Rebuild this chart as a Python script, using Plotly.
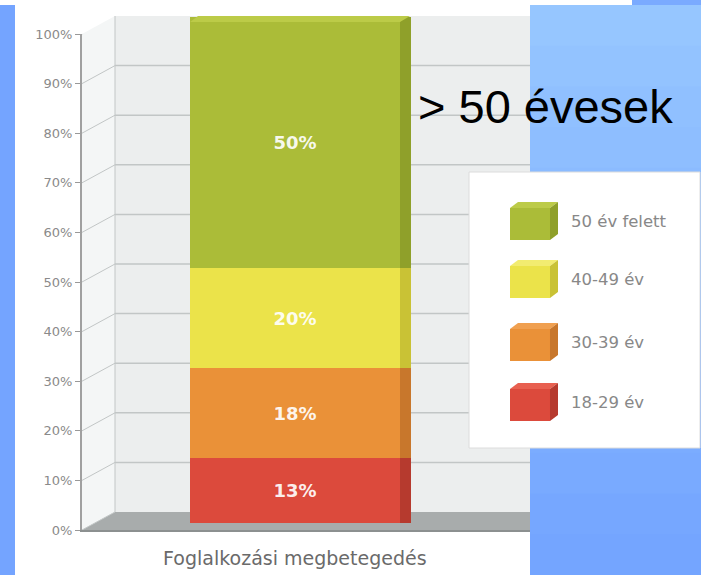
import plotly.graph_objects as go

W, H = 701, 575

# ---- data ----
category = "Foglalkozási megbetegedés"
age_groups = ["18-29 év", "30-39 év", "40-49 év", "50 év felett"]
shares = [13, 18, 20, 50]
y_ticks = [0, 10, 20, 30, 40, 50, 60, 70, 80, 90, 100]
y_tick_labels = [f"{t}%" for t in y_ticks]
title_text = "> 50 évesek"

# ---- style ----
front_colors = ["#dc4a3c", "#ea9138", "#ebe34a", "#abbc38"]
side_colors = ["#b63a2e", "#c8772c", "#c9c235", "#8fa02a"]
top_colors = ["#e86050", "#f0a050", "#f2ec70", "#bccb48"]


def px(x):
    return x / W


def py(y):
    return 1 - y / H


fig = go.Figure()

BAR_X, BAR_W = 0.475, 0.469
SIDE_X, SIDE_W = 0.7215, 0.024

for name, v, fc, sc in zip(age_groups, shares, front_colors, side_colors):
    fig.add_trace(go.Bar(
        x=[BAR_X], y=[v], width=[BAR_W], name=name,
        marker=dict(color=fc, line=dict(width=0)),
        text=[f"{v}%"], textposition="inside", insidetextanchor="middle",
        textfont=dict(color="rgba(255,255,255,0.92)", size=18, family="DejaVu Sans", weight="bold"),
        constraintext="none",
        xaxis="x", yaxis="y3", showlegend=False,
        hovertemplate=name + ": %{y}%<extra></extra>",
    ))
    fig.add_trace(go.Bar(
        x=[SIDE_X], y=[v], width=[SIDE_W], name=name,
        marker=dict(color=sc, line=dict(width=0)),
        xaxis="x", yaxis="y3", showlegend=False, hoverinfo="skip",
    ))

shapes = []
# page / card background
shapes.append(dict(type="rect", xref="paper", yref="paper", layer="below",
                   x0=0, x1=px(15), y0=0, y1=1, fillcolor="#74a4ff", line=dict(width=0)))
n_bands = 14
for i in range(n_bands):
    t = i / (n_bands - 1)
    r = int(0x96 + (0x74 - 0x96) * t)
    g = int(0xc6 + (0xa5 - 0xc6) * t)
    col = f"rgb({r},{g},255)"
    y_top = 5 + (575 - 5) * i / n_bands
    y_bot = 5 + (575 - 5) * (i + 1) / n_bands
    shapes.append(dict(type="rect", xref="paper", yref="paper", layer="below",
                       x0=px(530), x1=1, y0=py(y_bot + 1), y1=py(y_top),
                       fillcolor=col, line=dict(width=0)))
shapes.append(dict(type="rect", xref="paper", yref="paper", layer="below",
                   x0=px(15), x1=px(530), y0=0, y1=py(5), fillcolor="white", line=dict(width=0)))
shapes.append(dict(type="rect", xref="paper", yref="paper", layer="below",
                   x0=0, x1=px(632), y0=py(5), y1=1, fillcolor="white", line=dict(width=0)))


def ppath(points):
    return "M " + " L ".join(f"{px(x):.5f},{py(y):.5f}" for x, y in points) + " Z"


# walls
shapes.append(dict(type="path", xref="paper", yref="paper", layer="below",
                   path=ppath([(82, 34), (115, 16), (115, 512), (82, 530)]),
                   fillcolor="#f4f6f6", line=dict(width=0)))
shapes.append(dict(type="rect", xref="paper", yref="paper", layer="below",
                   x0=px(115), x1=px(530), y0=py(512), y1=py(16),
                   fillcolor="#eceeee", line=dict(width=0)))
shapes.append(dict(type="path", xref="paper", yref="paper", layer="below",
                   path=ppath([(82, 530), (115, 512), (530, 512), (530, 530)]),
                   fillcolor="#a8acac", line=dict(width=0)))
shapes.append(dict(type="line", xref="paper", yref="paper", layer="below",
                   x0=px(115), x1=px(115), y0=py(512), y1=py(16),
                   line=dict(color="#c2c6c6", width=1)))
# back-wall gridlines and depth connectors from the front axis
depth_units = 18 / 4.96
for v in y_ticks:
    shapes.append(dict(type="line", xref="paper", yref="y", layer="below",
                       x0=px(82), x1=px(115), y0=v, y1=v + depth_units,
                       line=dict(color="#c2c6c6", width=1)))
    if v > 0:
        shapes.append(dict(type="line", xref="paper", yref="y", layer="below",
                           x0=px(115), x1=px(530), y0=v + depth_units, y1=v + depth_units,
                           line=dict(color="#c2c6c6", width=1.5)))

# bar top face
shapes.append(dict(type="path", xref="paper", yref="paper", layer="above",
                   path=ppath([(190, 22), (198, 16), (410, 16), (400, 22)]),
                   fillcolor=top_colors[-1], line=dict(width=0)))

# legend box
lx0, lx1, ly0, ly1 = 469, 700, 172, 448
shapes.append(dict(type="rect", xref="paper", yref="paper", layer="above",
                   x0=px(lx0), x1=px(lx1), y0=py(ly1), y1=py(ly0),
                   fillcolor="white", line=dict(color="#dcdcdc", width=1)))

row_centers = [402, 342, 279, 221]  # for age_groups order
annotations = []
for name, fc, sc, tc, yc in zip(age_groups, front_colors, side_colors, top_colors, row_centers):
    fx0, fx1 = 510, 550
    fy0, fy1 = yc - 13, yc + 19
    shapes.append(dict(type="rect", xref="paper", yref="paper", layer="above",
                       x0=px(fx0), x1=px(fx1), y0=py(fy1), y1=py(fy0),
                       fillcolor=fc, line=dict(width=0)))
    shapes.append(dict(type="path", xref="paper", yref="paper", layer="above",
                       path=ppath([(fx0, fy0), (fx0 + 8, fy0 - 6), (fx1 + 8, fy0 - 6), (fx1, fy0)]),
                       fillcolor=tc, line=dict(width=0)))
    shapes.append(dict(type="path", xref="paper", yref="paper", layer="above",
                       path=ppath([(fx1, fy0), (fx1 + 8, fy0 - 6), (fx1 + 8, fy1 - 6), (fx1, fy1)]),
                       fillcolor=sc, line=dict(width=0)))
    annotations.append(dict(text=name, xref="paper", yref="paper", x=px(569), y=py(yc),
                            xanchor="left", yanchor="middle", showarrow=False,
                            font=dict(family="DejaVu Sans", size=16.5, color="#888888")))

annotations.append(dict(text=title_text, xref="paper", yref="paper", x=px(416), y=py(106),
                        xanchor="left", yanchor="middle", showarrow=False,
                        font=dict(family="Liberation Sans", size=47, color="black")))

fig.update_layout(
    width=W, height=H,
    margin=dict(l=0, r=0, t=0, b=0, pad=0),
    paper_bgcolor="#7aaaff",
    plot_bgcolor="rgba(0,0,0,0)",
    barmode="stack",
    bargap=0,
    showlegend=False,
    shapes=shapes,
    annotations=annotations,
    xaxis=dict(domain=[px(82), px(530)], range=[0, 1], anchor="y", automargin=False,
               tickvals=[BAR_X], ticktext=[category], ticks="",
               ticklabelstandoff=10,
               showgrid=False, zeroline=False,
               showline=True, linecolor="#8c9090", linewidth=2,
               tickfont=dict(family="DejaVu Sans", size=19, color="#6a6a6a"),
               fixedrange=True),
    yaxis=dict(domain=[py(530), py(34)], range=[0, 100], anchor="x", automargin=False,
               tickvals=y_ticks, ticktext=y_tick_labels,
               ticks="outside", ticklen=5, tickcolor="#999999",
               showline=True, linecolor="#a0a0a0", linewidth=2,
               showgrid=False, zeroline=False,
               tickfont=dict(family="DejaVu Sans", size=13, color="#8a8a8a"),
               fixedrange=True),
    yaxis3=dict(domain=[py(523), py(17)], range=[0, 101], anchor="x",
                visible=False, automargin=False, fixedrange=True),
)

fig.write_html("out.html")
